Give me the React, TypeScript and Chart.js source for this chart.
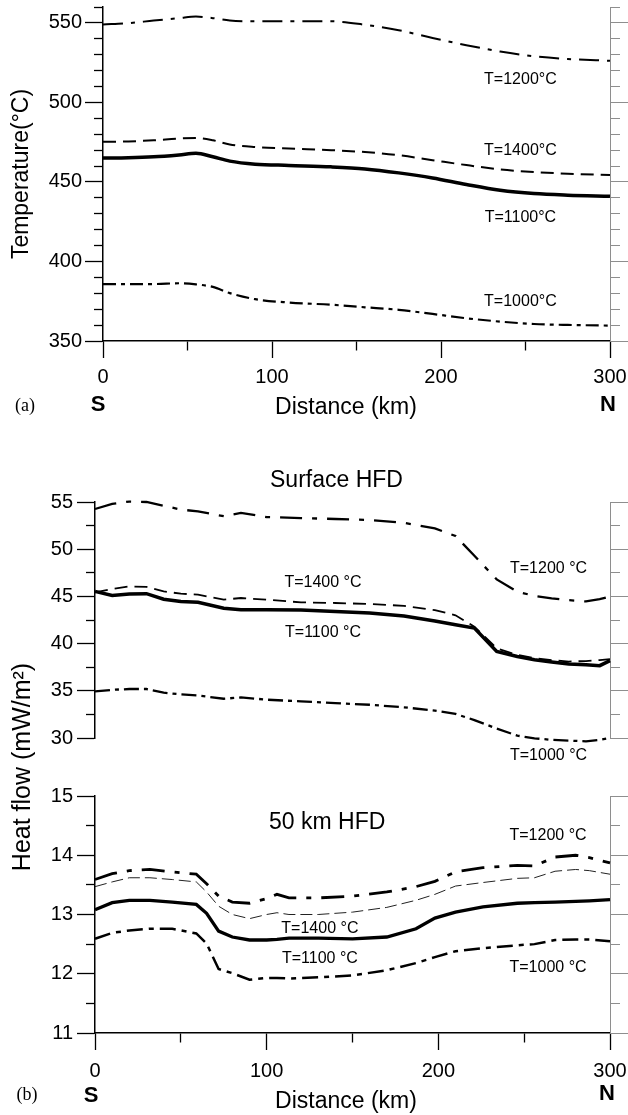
import React, { useEffect, useRef } from "react";
import { Chart, registerables } from "chart.js";

Chart.register(...registerables);

const SANS = "'Liberation Sans', Arial, Helvetica, sans-serif";
const SERIF = "'Liberation Serif', 'Times New Roman', serif";
const GREY = "#8e8e8e";

// ---------------- Panel (a): temperature ----------------
const distA = [0, 15, 30, 45, 55, 65, 75, 90, 110, 135, 155, 175, 195, 215, 235, 255, 275, 300];
const tempT1200 = [549, 549.8, 551.5, 553, 554, 553, 551.5, 551, 551, 551, 548.8, 545.4, 540.5, 536, 532, 529, 527.3, 526.2];
const tempT1400 = [475.2, 475.5, 476.2, 477.3, 477.6, 476.2, 473.6, 472, 471, 470, 468.8, 466.8, 463.7, 460.6, 457.9, 456.2, 455.2, 454.3];
const tempT1100 = [465, 465.2, 465.8, 467, 468, 465.8, 463.1, 461.2, 460.4, 459.5, 458.2, 455.7, 452.5, 448.4, 444.8, 442.7, 441.7, 441];
const tempT1000 = [385.8, 385.8, 385.8, 386.3, 385.6, 384, 380.1, 376.3, 374.2, 372.8, 371.2, 369.6, 367, 364.3, 362.2, 360.7, 360.1, 359.7];

// ---------------- Panel (b): surface heat flow ----------------
const distSurf = [0, 10, 20, 30, 40, 50, 60, 75, 85, 100, 120, 140, 160, 180, 198, 210, 221, 234, 246, 256, 266, 276, 286, 294, 300];
const surfT1200 = [54.26, 54.8, 55.05, 55.0, 54.6, 54.2, 54.0, 53.5, 53.85, 53.4, 53.3, 53.2, 53.1, 52.8, 52.2, 51.4, 49.3, 46.8, 45.5, 45.05, 44.8, 44.6, 44.47, 44.7, 45.0];
const surfT1400 = [45.42, 45.78, 46.06, 46.0, 45.53, 45.29, 45.18, 44.65, 44.83, 44.65, 44.37, 44.3, 44.2, 44.0, 43.55, 43.0, 41.8, 39.5, 38.8, 38.45, 38.25, 38.1, 38.15, 38.25, 38.35];
const surfT1100 = [45.53, 45.1, 45.25, 45.29, 44.7, 44.45, 44.37, 43.75, 43.59, 43.59, 43.55, 43.41, 43.24, 42.92, 42.4, 42.0, 41.65, 39.17, 38.64, 38.28, 38.05, 37.85, 37.75, 37.66, 38.2];
const surfT1000 = [34.94, 35.1, 35.19, 35.19, 34.8, 34.62, 34.5, 34.16, 34.3, 34.06, 33.88, 33.7, 33.52, 33.25, 32.9, 32.55, 31.9, 31.0, 30.25, 29.97, 29.8, 29.73, 29.64, 29.8, 30.0];

// ---------------- Panel (b): 50 km heat flow ----------------
const dist50 = [0, 10, 20, 32, 45, 59, 65, 72, 80, 90, 100, 106, 113, 130, 150, 170, 187, 198, 210, 226, 246, 256, 268, 280, 288, 300];
const h50T1200 = [13.59, 13.69, 13.74, 13.76, 13.72, 13.68, 13.52, 13.31, 13.21, 13.19, 13.27, 13.34, 13.28, 13.28, 13.31, 13.38, 13.47, 13.56, 13.72, 13.79, 13.83, 13.82, 13.97, 14.0, 13.96, 13.87];
const h50T1400 = [13.47, 13.55, 13.62, 13.62, 13.59, 13.55, 13.38, 13.14, 13.0, 12.93, 13.0, 13.03, 13.0, 13.0, 13.04, 13.12, 13.24, 13.34, 13.48, 13.54, 13.61, 13.62, 13.73, 13.76, 13.74, 13.68];
const h50T1100 = [13.08, 13.2, 13.24, 13.24, 13.21, 13.17, 13.02, 12.72, 12.62, 12.57, 12.57, 12.58, 12.6, 12.6, 12.59, 12.62, 12.76, 12.94, 13.04, 13.13, 13.19, 13.2, 13.21, 13.22, 13.23, 13.25];
const h50T1000 = [12.59, 12.69, 12.73, 12.76, 12.76, 12.68, 12.51, 12.08, 12.01, 11.9, 11.93, 11.93, 11.92, 11.94, 11.97, 12.06, 12.18, 12.28, 12.38, 12.43, 12.48, 12.5, 12.57, 12.58, 12.58, 12.55];

// ---------------- tick labels ----------------
const xTickLabels = [0, 100, 200, 300];
const tempTickLabels = [350, 400, 450, 500, 550];
const surfTickLabels = [30, 35, 40, 45, 50, 55];
const h50TickLabels = [11, 12, 13, 14, 15];

// ---------------- helpers ----------------
const range = (a: number, b: number, s: number) => {
  const out: number[] = [];
  for (let v = a; v <= b + 1e-9; v += s) out.push(Math.round(v * 1000) / 1000);
  return out;
};
const pts = (xs: number[], ys: number[]) => xs.map((x, i) => ({ x, y: ys[i] }));
const isIn = (list: number[], v: number) => list.some((l) => Math.abs(l - v) < 1e-6);

function leftAxis(min: number, max: number, step: number, labels: number[], width: number, pad: number, extra: any = {}) {
  const major = (c: any) => !!(c && c.tick && isIn(labels, c.tick.value));
  return {
    type: "linear",
    position: "left",
    min,
    max,
    afterBuildTicks: (s: any) => {
      s.ticks = range(min, max, step).map((value) => ({ value }));
    },
    afterFit: (s: any) => {
      s.width = width;
      s.paddingTop = 0;
      s.paddingBottom = 0;
    },
    ticks: {
      autoSkip: false,
      padding: pad,
      color: "#000",
      font: { family: SANS, size: 20 },
      callback: (v: number) => (isIn(labels, v) ? String(v) : ""),
    },
    grid: {
      drawOnChartArea: false,
      tickLength: 18,
      tickColor: "#000",
      tickWidth: 1.3,
      tickBorderDash: (c: any) => (major(c) ? [] : [9, 9]),
      tickBorderDashOffset: (c: any) => (major(c) ? 0 : 9),
    },
    border: { color: "#000", width: 1.5 },
    ...extra,
  };
}

function rightAxis(min: number, max: number, step: number, labels: number[], extra: any = {}) {
  const major = (c: any) => !!(c && c.tick && isIn(labels, c.tick.value));
  return {
    type: "linear",
    position: "right",
    min,
    max,
    afterBuildTicks: (s: any) => {
      s.ticks = range(min, max, step).map((value) => ({ value }));
    },
    afterFit: (s: any) => {
      s.width = 18;
      s.paddingTop = 0;
      s.paddingBottom = 0;
    },
    ticks: { display: false, autoSkip: false },
    grid: {
      drawOnChartArea: false,
      tickLength: 18,
      tickColor: GREY,
      tickWidth: 1,
      tickBorderDash: (c: any) => (major(c) ? [] : [9, 100]),
      tickBorderDashOffset: 0,
    },
    border: { color: GREY, width: 1 },
    ...extra,
  };
}

function bottomAxis(height: number, pad: number) {
  const major = (c: any) => !!(c && c.tick && isIn(xTickLabels, c.tick.value));
  return {
    type: "linear",
    position: "bottom",
    min: 0,
    max: 300,
    afterBuildTicks: (s: any) => {
      s.ticks = range(0, 300, 50).map((value) => ({ value }));
    },
    afterFit: (s: any) => {
      s.height = height;
      s.paddingLeft = 0;
      s.paddingRight = 0;
    },
    ticks: {
      autoSkip: false,
      maxRotation: 0,
      minRotation: 0,
      padding: pad,
      color: "#000",
      font: { family: SANS, size: 20 },
      callback: (v: number) => (isIn(xTickLabels, v) ? String(v) : ""),
    },
    grid: {
      drawOnChartArea: false,
      tickLength: 17,
      tickColor: "#000",
      tickWidth: 1.3,
      tickBorderDash: (c: any) => (major(c) ? [] : [9, 100]),
      tickBorderDashOffset: 0,
    },
    border: { color: "#000", width: 1.5 },
  };
}

type TextItem = {
  text: string;
  font: string;
  x?: number;
  y?: number;
  km?: number;
  v?: number;
  yAxis?: string;
  align?: CanvasTextAlign;
};

function textPlugin(items: TextItem[]) {
  return {
    id: "texts",
    afterDraw(chart: any) {
      const ctx = chart.ctx;
      ctx.save();
      ctx.fillStyle = "#000";
      ctx.textBaseline = "middle";
      for (const t of items) {
        let x = t.x ?? 0;
        let y = t.y ?? 0;
        if (t.km !== undefined && t.yAxis) {
          x = chart.scales.x.getPixelForValue(t.km);
          y = chart.scales[t.yAxis].getPixelForValue(t.v);
        }
        ctx.font = t.font;
        ctx.textAlign = t.align || "center";
        ctx.fillText(t.text, x, y);
      }
      ctx.restore();
    },
  };
}

const lineDs = (data: any[], width: number, dash: number[], yAxisID: string, extra: any = {}) => ({
  data,
  borderColor: "#000",
  borderWidth: width,
  borderDash: dash,
  pointRadius: 0,
  fill: false,
  clip: false,
  yAxisID,
  xAxisID: "x",
  ...extra,
});

const LBL = `16px ${SANS}`;
const BIG = `23px ${SANS}`;
const BOLD = `bold 22px ${SANS}`;
const PAREN = `18px ${SERIF}`;

function buildA(): any {
  const smooth = { cubicInterpolationMode: "monotone" };
  return {
    type: "line",
    data: {
      datasets: [
        lineDs(pts(distA, tempT1200), 2, [20, 8, 4, 8], "y", smooth),
        lineDs(pts(distA, tempT1400), 2, [13, 7], "y", smooth),
        lineDs(pts(distA, tempT1100), 3.5, [], "y", smooth),
        lineDs(pts(distA, tempT1000), 2.2, [13, 5, 4, 5], "y", smooth),
      ],
    },
    options: {
      responsive: false,
      animation: false,
      events: [],
      layout: { padding: { top: 7, left: 0, right: 0, bottom: 0 } },
      plugins: { legend: { display: false }, tooltip: { enabled: false }, title: { display: false } },
      scales: {
        x: bottomAxis(79, 7),
        y: leftAxis(350, 560, 10, tempTickLabels, 103, 3, {
          title: {
            display: true,
            text: "Temperature(°C)",
            color: "#000",
            font: { family: SANS, size: 23 },
            padding: { top: 8, bottom: 0 },
          },
        }),
        yR: rightAxis(350, 560, 10, tempTickLabels),
      },
    },
    plugins: [
      textPlugin([
        { text: "T=1200°C", font: LBL, km: 247, v: 514.1, yAxis: "y" },
        { text: "T=1400°C", font: LBL, km: 247, v: 469.5, yAxis: "y" },
        { text: "T=1100°C", font: LBL, km: 247, v: 427.3, yAxis: "y" },
        { text: "T=1000°C", font: LBL, km: 247, v: 374.5, yAxis: "y" },
        { text: "(a)", font: PAREN, x: 25, y: 406 },
        { text: "S", font: BOLD, x: 98, y: 405 },
        { text: "N", font: BOLD, x: 608, y: 405 },
        { text: "Distance (km)", font: BIG, x: 346, y: 408 },
      ]),
    ],
  };
}

function buildB(): any {
  return {
    type: "line",
    data: {
      datasets: [
        lineDs(pts(distSurf, surfT1200), 2.3, [22, 10, 5, 10], "ySurf"),
        lineDs(pts(distSurf, surfT1400), 1.8, [13, 7], "ySurf"),
        lineDs(pts(distSurf, surfT1100), 3.5, [], "ySurf"),
        lineDs(pts(distSurf, surfT1000), 2.3, [15, 5, 4, 5], "ySurf"),
        lineDs(pts(dist50, h50T1200), 2.8, [23, 10, 5, 10], "y50"),
        lineDs(pts(dist50, h50T1400), 1, [12, 5], "y50", { borderColor: "#222" }),
        lineDs(pts(dist50, h50T1100), 3.3, [], "y50"),
        lineDs(pts(dist50, h50T1000), 2.5, [16, 6, 5, 6], "y50"),
      ],
    },
    options: {
      responsive: false,
      animation: false,
      events: [],
      elements: { line: { tension: 0 } },
      layout: { padding: { top: 82, left: 0, right: 0, bottom: 0 } },
      plugins: { legend: { display: false }, tooltip: { enabled: false }, title: { display: false } },
      scales: {
        x: bottomAxis(82, 9),
        ySurf: leftAxis(30, 55, 2.5, surfTickLabels, 95, 4, { stack: "L", stackWeight: 236, weight: 3 }),
        yGap: {
          type: "linear",
          position: "left",
          min: 0,
          max: 1,
          stack: "L",
          stackWeight: 58,
          weight: 2,
          afterFit: (s: any) => {
            s.width = 95;
            s.paddingTop = 0;
            s.paddingBottom = 0;
          },
          ticks: { display: false },
          grid: { display: false },
          border: { display: false },
          title: {
            display: true,
            text: "Heat flow (mW/m²)",
            color: "#000",
            font: { family: SANS, size: 25 },
            padding: { top: 8, bottom: 0 },
          },
        },
        y50: leftAxis(11, 15, 0.5, h50TickLabels, 95, 4, { stack: "L", stackWeight: 237, weight: 1 }),
        rSurf: rightAxis(30, 55, 2.5, surfTickLabels, { stack: "R", stackWeight: 236, weight: 1 }),
        rGap: { type: "linear", position: "right", display: false, min: 0, max: 1, stack: "R", stackWeight: 58, weight: 2 },
        r50: rightAxis(11, 15, 0.5, h50TickLabels, { stack: "R", stackWeight: 237, weight: 3 }),
      },
    },
    plugins: [
      textPlugin([
        { text: "Surface HFD", font: BIG, x: 270, y: 61, align: "left" },
        { text: "50 km HFD", font: BIG, x: 269, y: 403, align: "left" },
        { text: "T=1200 °C", font: LBL, km: 264.2, v: 47.9, yAxis: "ySurf" },
        { text: "T=1400 °C", font: LBL, km: 132.8, v: 46.42, yAxis: "ySurf" },
        { text: "T=1100 °C", font: LBL, km: 132.8, v: 41.12, yAxis: "ySurf" },
        { text: "T=1000 °C", font: LBL, km: 264.2, v: 28.1, yAxis: "ySurf" },
        { text: "T=1200 °C", font: LBL, km: 263.9, v: 14.34, yAxis: "y50" },
        { text: "T=1400 °C", font: LBL, km: 131, v: 12.77, yAxis: "y50" },
        { text: "T=1100 °C", font: LBL, km: 131, v: 12.25, yAxis: "y50" },
        { text: "T=1000 °C", font: LBL, km: 263.9, v: 12.11, yAxis: "y50" },
        { text: "(b)", font: PAREN, x: 27, y: 675 },
        { text: "S", font: BOLD, x: 91, y: 676 },
        { text: "N", font: BOLD, x: 607, y: 674 },
        { text: "Distance (km)", font: BIG, x: 346, y: 682 },
      ]),
    ],
  };
}

function ChartCanvas({ height, top, build }: { height: number; top: number; build: () => any }) {
  const ref = useRef<HTMLCanvasElement | null>(null);
  useEffect(() => {
    if (!ref.current) return;
    const chart = new Chart(ref.current, build());
    return () => chart.destroy();
  }, []);
  return (
    <canvas
      ref={ref}
      width={628}
      height={height}
      style={{ position: "absolute", left: 0, top, width: 628, height, display: "block" }}
    />
  );
}

export default function App() {
  return (
    <div style={{ position: "absolute", left: 0, top: 0, width: 628, height: 1115, background: "#fff", overflow: "hidden" }}>
      <ChartCanvas height={420} top={0} build={buildA} />
      <ChartCanvas height={695} top={420} build={buildB} />
    </div>
  );
}
